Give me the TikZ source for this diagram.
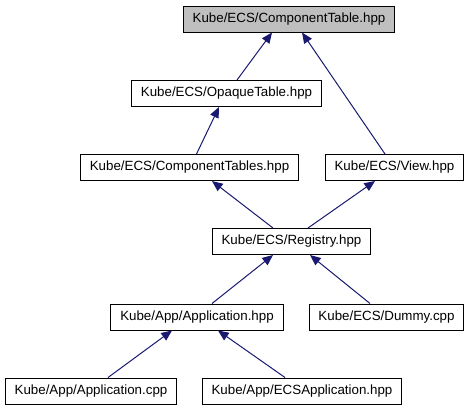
\documentclass[tikz,border=0pt]{standalone}
\usepackage{fontspec}
\setmainfont{Liberation Sans}
\usetikzlibrary{arrows.meta,calc}

\definecolor{depblue}{HTML}{191970}
\definecolor{focusgray}{HTML}{BFBFBF}

\begin{document}
\begin{tikzpicture}[
  x=0.75pt,
  y=-0.75pt,
  line join=miter,
  every node/.style={font=\fontsize{10}{12}\selectfont},
  file/.style={draw=black,line width=0.75pt,fill=white,rectangle,
    minimum height=19.5pt,inner xsep=7pt,inner ysep=0pt},
  focus/.style={file,fill=focusgray},
  dep/.style={draw=depblue,line width=0.75pt,
    -{Triangle[length=8pt,width=6.8pt]}}
]
\useasboundingbox (0,0) rectangle (471,411);

% ------------------------------------------------------------------
% Files
% ------------------------------------------------------------------
\node[focus] (ctable)  at (289,19)    {Kube/ECS/ComponentTable.hpp};
\node[file]  (opaque)  at (226.5,93.5) {Kube/ECS/OpaqueTable.hpp};
\node[file]  (ctables) at (189.5,167.5) {Kube/ECS/ComponentTables.hpp};
\node[file]  (view)    at (394.5,167.5) {Kube/ECS/View.hpp};
\node[file]  (reg)     at (291.5,241.5) {Kube/ECS/Registry.hpp};
\node[file]  (apphpp)  at (197,317)   {Kube/App/Application.hpp};
\node[file]  (dummy)   at (386.5,317) {Kube/ECS/Dummy.cpp};
\node[file]  (appcpp)  at (91,391)    {Kube/App/Application.cpp};
\node[file]  (ecsapp)  at (302,391)   {Kube/App/ECSApplication.hpp};

% ------------------------------------------------------------------
% Includes
% ------------------------------------------------------------------
\draw[dep] ($(opaque.north)+(10.5,0)$)  -- ($(ctable.south)+(-17,0)$);
\draw[dep] ($(view.north)+(-9.5,0)$)    -- ($(ctable.south)+(13,0)$);
\draw[dep] ($(ctables.north)+(7,0)$)    -- ($(opaque.south)+(-7.5,0)$);
\draw[dep] ($(reg.north)+(-18.5,0)$)    -- ($(ctables.south)+(22.5,0)$);
\draw[dep] ($(reg.north)+(16.5,0)$)     -- ($(view.south)+(-19.5,0)$);
\draw[dep] ($(apphpp.north)+(15,0)$)    -- ($(reg.south)+(-18.5,0)$);
\draw[dep] ($(dummy.north)+(-16.5,0)$)  -- ($(reg.south)+(18.5,0)$);
\draw[dep] ($(appcpp.north)+(17,0)$)    -- ($(apphpp.south)+(-25,0)$);
\draw[dep] ($(ecsapp.north)+(-17,0)$)   -- ($(apphpp.south)+(21,0)$);

\end{tikzpicture}
\end{document}
